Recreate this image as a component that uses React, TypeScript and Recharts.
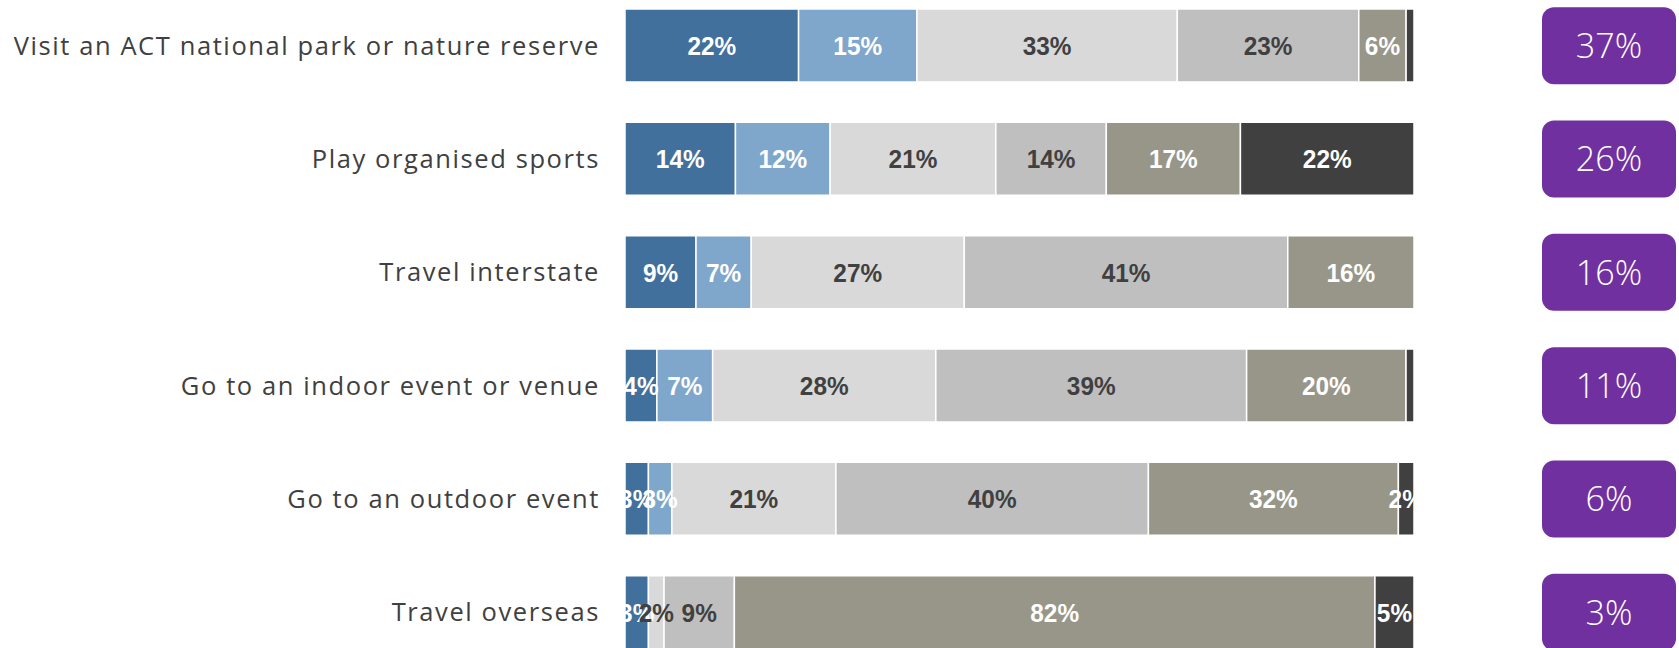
import { BarChart, Bar, XAxis, YAxis, LabelList } from 'recharts';

// Categories (top to bottom)
const categories = [
  'Visit an ACT national park or nature reserve',
  'Play organised sports',
  'Travel interstate',
  'Go to an indoor event or venue',
  'Go to an outdoor event',
  'Travel overseas',
];

// Stacked segments, left to right (percent)
const darkBlue = [22, 14, 9, 4, 3, 3];
const lightBlue = [15, 12, 7, 7, 3, 0];
const lightGrey = [33, 21, 27, 28, 21, 2];
const midGrey = [23, 14, 41, 39, 40, 9];
const taupe = [6, 17, 16, 20, 32, 82];
const charcoal = [1, 22, 0, 1, 2, 5];

// Highlighted total shown in the purple box
const topTwo = [37, 26, 16, 11, 6, 3];

const seriesKeys = ['s1', 's2', 's3', 's4', 's5', 's6'];
const seriesColors = ['#41709C', '#7FA6CB', '#D9D9D9', '#BFBFBF', '#989689', '#404040'];
const labelColors = ['#FFFFFF', '#FFFFFF', '#404040', '#404040', '#FFFFFF', '#FFFFFF'];
const seriesValues = [darkBlue, lightBlue, lightGrey, midGrey, taupe, charcoal];

const data = categories.map((name, i) => {
  const row: Record<string, string | number> = { name };
  seriesKeys.forEach((k, s) => {
    row[k] = seriesValues[s][i];
  });
  return row;
});

const SEGMENT_FONT = "'Liberation Sans', Arial, sans-serif";
const CATEGORY_FONT = "'Open Sans', 'Noto Sans', sans-serif";

function makeSegmentLabel(color: string) {
  return function SegmentLabel(props: any) {
    const { x, y, width, height, value } = props;
    if (value == null || value < 2) return null;
    const cx = x + width / 2;
    const cy = y + height / 2;
    return (
      <text
        transform={`translate(${cx}, ${cy}) scale(0.92, 1)`}
        x={0}
        y={0}
        dy="0.36em"
        textAnchor="middle"
        fill={color}
        fontFamily={SEGMENT_FONT}
        fontWeight={700}
        fontSize={26.5}
      >
        {`${value}%`}
      </text>
    );
  };
}

function BoxTick(props: any) {
  const { x, y, payload } = props;
  const idx = categories.indexOf(payload.value);
  const w = 134;
  const h = 77;
  const left = x + 128;
  return (
    <g>
      <rect x={left} y={y - h / 2} width={w} height={h} rx={12} ry={12} fill="#7030A0" />
      <text
        x={left + w / 2}
        y={y}
        dy="0.36em"
        textAnchor="middle"
        fill="#FFFFFF"
        fontFamily={CATEGORY_FONT}
        fontWeight={300}
        fontSize={34}
      >
        {`${topTwo[idx]}%`}
      </text>
    </g>
  );
}

export default function App() {
  return (
    <div
      style={{
        position: 'fixed',
        left: 0,
        top: 0,
        width: 1679,
        height: 648,
        overflow: 'hidden',
        background: '#fff',
      }}
    >
      <div style={{ position: 'absolute', left: 0, top: -11 }}>
        <BarChart
          width={1679}
          height={680}
          data={data}
          layout="vertical"
          stackOffset="expand"
          margin={{ top: 0, right: 0, bottom: 0, left: 0 }}
        >
          <XAxis type="number" domain={[0, 1]} hide />
          <YAxis
            yAxisId="left"
            type="category"
            dataKey="name"
            width={625}
            axisLine={false}
            tickLine={false}
            tickSize={0}
            tickMargin={25}
            tick={{
              fill: '#404040',
              fontSize: 25.5,
              fontFamily: CATEGORY_FONT,
              letterSpacing: 1.6,
            }}
          />
          <YAxis
            yAxisId="right"
            orientation="right"
            type="category"
            dataKey="name"
            width={265}
            axisLine={false}
            tickLine={false}
            tickSize={0}
            tickMargin={0}
            tick={<BoxTick />}
          />
          {seriesKeys.map((k, s) => (
            <Bar
              key={k}
              dataKey={k}
              yAxisId="left"
              stackId="a"
              fill={seriesColors[s]}
              stroke="#FFFFFF"
              strokeWidth={1.5}
              barSize={73}
              isAnimationActive={false}
            >
              <LabelList dataKey={k} content={makeSegmentLabel(labelColors[s])} />
            </Bar>
          ))}
        </BarChart>
      </div>
    </div>
  );
}
